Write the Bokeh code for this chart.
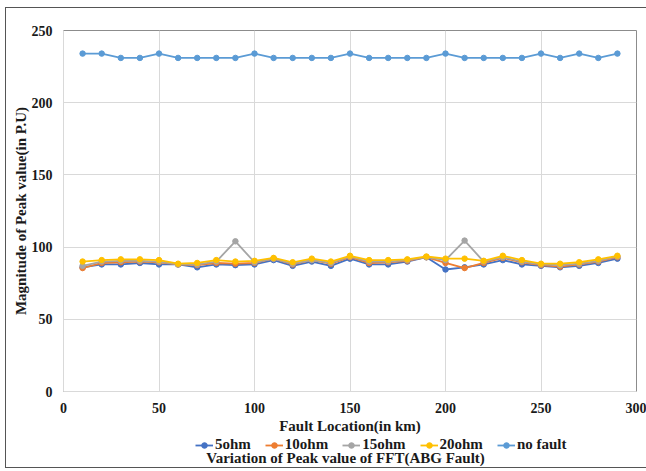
from bokeh.plotting import figure
from bokeh.models import Legend, LegendItem, FixedTicker, Label, Range1d
from bokeh.layouts import column
from bokeh.embed import file_html
from bokeh.resources import INLINE

x_km = [10, 20, 30, 40, 50, 60, 70, 80, 90, 100, 110, 120, 130, 140, 150,
        160, 170, 180, 190, 200, 210, 220, 230, 240, 250, 260, 270, 280, 290]

ohm5 = [86, 88, 88, 89, 88, 88, 86, 88, 87.5, 88, 91, 87, 90, 87, 92,
        88, 88, 90, 93, 84.5, 86, 88, 91, 88, 87, 86, 87, 89, 92]
ohm10 = [85.5, 89, 89.5, 90, 89.5, 88, 87.5, 89, 88.5, 89, 92, 88, 91, 88.5, 93,
         89, 89.5, 90.5, 93, 89, 85.5, 89, 92.5, 89.5, 87.5, 86.5, 88, 90, 93]
ohm15 = [87, 90, 90.5, 90.5, 90, 88, 88, 90, 104, 89.5, 92, 88.5, 91, 89, 93.5,
         90, 90, 91, 93, 91, 104.5, 90, 93, 90, 88, 87.5, 88.5, 90.5, 93.5]
ohm20 = [90, 91, 91.5, 91.5, 91, 88.5, 89, 91, 90, 90.5, 92.5, 89.5, 92, 90, 94,
         91, 91, 91.5, 93.5, 92, 92, 90.5, 94, 91, 88.5, 88.5, 89.5, 91.5, 94]
no_fault = [234, 234, 231, 231, 234, 231, 231, 231, 231, 234, 231, 231, 231, 231, 234,
            231, 231, 231, 231, 234, 231, 231, 231, 231, 234, 231, 234, 231, 234]

series = [
    ("5ohm", ohm5, "#4472C4"),
    ("10ohm", ohm10, "#ED7D31"),
    ("15ohm", ohm15, "#A5A5A5"),
    ("20ohm", ohm20, "#FFC000"),
    ("no fault", no_fault, "#5B9BD5"),
]

x_ticks = [0, 50, 100, 150, 200, 250, 300]
y_ticks = [0, 50, 100, 150, 200, 250]
chart_title = "Variation of Peak value of FFT(ABG Fault)"

FONT = "Liberation Serif"
TXT = "#1a1a1a"

p = figure(width=640, height=428, output_backend="svg", toolbar_location=None,
           x_range=(0, 300), y_range=(0, 250),
           min_border_left=57, min_border_top=22, min_border_right=10,
           min_border_bottom=42)

p.outline_line_color = "#8c8c8c"
p.outline_line_width = 1
p.background_fill_color = "white"
p.border_fill_color = "white"

p.xgrid.grid_line_color = "#D9D9D9"
p.ygrid.grid_line_color = "#D9D9D9"
p.xaxis.ticker = FixedTicker(ticks=x_ticks)
p.yaxis.ticker = FixedTicker(ticks=y_ticks)

for ax in (p.xaxis, p.yaxis):
    ax.axis_line_color = "#D9D9D9"
    ax.major_tick_line_color = None
    ax.minor_tick_line_color = None
    ax.major_label_text_font = FONT
    ax.major_label_text_font_style = "bold"
    ax.major_label_text_font_size = "14px"
    ax.major_label_text_color = TXT
    ax.axis_label_text_font = FONT
    ax.axis_label_text_font_style = "bold"
    ax.axis_label_text_font_size = "15px"
    ax.axis_label_text_color = TXT

p.xaxis.axis_label = "Fault Location(in km)"
p.yaxis.axis_label = "Magnitude of Peak value(in P.U)"
p.xaxis.major_label_standoff = 5
p.xaxis.axis_label_standoff = 2
p.yaxis.major_label_standoff = 5
p.yaxis.axis_label_standoff = 0

for name, vals, col in series:
    p.line(x_km, vals, line_color=col, line_width=1.8)
    p.scatter(x_km, vals, marker="circle", size=5.5, fill_color=col, line_color=col)

# legend + chart title strip (series drawn off-range there; only their legend swatches show)
p2 = figure(width=640, height=31, output_backend="svg", toolbar_location=None,
            x_range=Range1d(0, 300), y_range=Range1d(-20, -10),
            x_axis_location=None, y_axis_location=None,
            min_border_left=0, min_border_right=0, min_border_top=0, min_border_bottom=0)
p2.grid.visible = False
p2.outline_line_color = None
p2.background_fill_color = "white"
p2.border_fill_color = "white"

items = []
for name, vals, col in series:
    r1 = p2.line(x_km, vals, line_color=col, line_width=1.8)
    r2 = p2.scatter(x_km, vals, marker="circle", size=5.5, fill_color=col, line_color=col)
    items.append(LegendItem(label=name, renderers=[r1, r2]))

legend = Legend(items=items, orientation="horizontal", location=(132, 14),
                label_text_font=FONT, label_text_font_style="bold",
                label_text_font_size="15px", label_text_color=TXT,
                glyph_width=18, glyph_height=14, label_height=14,
                label_standoff=2, spacing=14, padding=0, margin=0,
                border_line_color=None, background_fill_alpha=0)
p2.add_layout(legend, "center")

p2.add_layout(Label(x=282, y=10, x_units="screen", y_units="screen",
                    text=chart_title, text_align="center", text_baseline="middle",
                    text_font=FONT, text_font_style="bold", text_font_size="15px",
                    text_color=TXT))

layout = column(p, p2, spacing=0)
layout.styles = {"outline": "1px solid #555555", "margin-left": "6px", "margin-top": "8px"}

open("out.html", "w").write(file_html(layout, INLINE))
